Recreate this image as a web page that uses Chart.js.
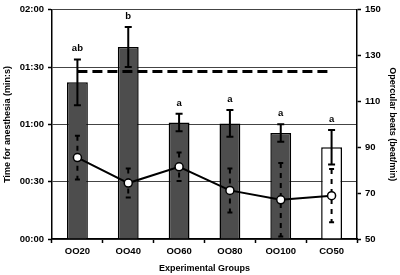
<!DOCTYPE html>
<html>
<head>
<meta charset="utf-8">
<script src="https://cdn.jsdelivr.net/npm/chart.js@4/dist/chart.umd.min.js"></script>
<style>
  html, body { margin: 0; padding: 0; background: #fff; }
  #wrap { width: 400px; height: 275px; }
</style>
</head>
<body>
<div id="wrap"><canvas id="chart" width="400" height="275"></canvas></div>
<script>
// data
const groups = ['OO20', 'OO40', 'OO60', 'OO80', 'OO100', 'CO50'];
const timeSec = [82, 100.5, 61, 60.5, 55.5, 48];      // time for anesthesia, seconds
const timeErr = [12, 10.5, 4.6, 7, 4.6, 9];
const letters = ['ab', 'b', 'a', 'a', 'a', 'a'];
const beats = [85.5, 74.4, 81.5, 71.2, 67.1, 68.9];   // opercular beats, beat/min
const beatsErr = [9.5, 6.3, 6.2, 9.6, 16, 11.6];
const controlBeats = [123, 123, 123, 123, 123, 123];  // dashed reference line
const timeTicks = [0, 30, 60, 90, 120];

const barColors = ['#4d4d4d', '#4d4d4d', '#4d4d4d', '#4d4d4d', '#4d4d4d', '#ffffff'];

function mmss(v) {
    const m = Math.floor(v / 60);
    const s = v % 60;
    return String(m).padStart(2, '0') + ':' + String(s).padStart(2, '0');
}

// error bars + significance letters
const errorBars = {
    id: 'errorBars',
    afterDatasetDraw(chart, args) {
        if (args.index !== 0) return;
        const ctx = chart.ctx;
        const x = chart.scales.x;
        const y = chart.scales.y;
        ctx.save();
        ctx.strokeStyle = '#000';
        ctx.lineWidth = 2;
        ctx.fillStyle = '#000';
        ctx.font = 'bold 9.5px "Liberation Sans", Arial, sans-serif';
        ctx.textAlign = 'center';
        ctx.textBaseline = 'alphabetic';
        timeSec.forEach((v, i) => {
            const cx = x.getPixelForValue(i);
            const top = y.getPixelForValue(v + timeErr[i]);
            const bot = y.getPixelForValue(v - timeErr[i]);
            ctx.beginPath();
            ctx.moveTo(cx, top); ctx.lineTo(cx, bot);
            ctx.moveTo(cx - 3.5, top); ctx.lineTo(cx + 3.5, top);
            ctx.moveTo(cx - 3.5, bot); ctx.lineTo(cx + 3.5, bot);
            ctx.stroke();
            ctx.fillText(letters[i], cx, top - 8);
        });
        ctx.restore();
    },
    beforeDatasetDraw(chart, args) {
        if (args.index !== 2) return;
        const ctx = chart.ctx;
        const x = chart.scales.x;
        const y1 = chart.scales.y1;
        ctx.save();
        ctx.strokeStyle = '#000';
        ctx.lineWidth = 2;
        beats.forEach((v, i) => {
            const cx = x.getPixelForValue(i);
            const top = y1.getPixelForValue(v + beatsErr[i]);
            const bot = y1.getPixelForValue(v - beatsErr[i]);
            ctx.setLineDash([5, 5]);
            ctx.beginPath();
            ctx.moveTo(cx, top); ctx.lineTo(cx, bot);
            ctx.stroke();
            ctx.setLineDash([]);
            ctx.beginPath();
            ctx.moveTo(cx - 2.5, top); ctx.lineTo(cx + 2.5, top);
            ctx.moveTo(cx - 2.5, bot); ctx.lineTo(cx + 2.5, bot);
            ctx.stroke();
        });
        ctx.restore();
    }
};

Chart.defaults.font.family = '"Liberation Sans", Arial, sans-serif';
Chart.defaults.font.size = 9.5;
Chart.defaults.font.weight = 'bold';
Chart.defaults.color = '#000';

new Chart(document.getElementById('chart'), {
    type: 'bar',
    data: {
        labels: groups,
        datasets: [
            {
                type: 'bar',
                data: timeSec,
                yAxisID: 'y',
                backgroundColor: barColors,
                borderColor: '#000',
                borderWidth: 1.5,
                barPercentage: 0.41,
                categoryPercentage: 1,
                order: 3
            },
            {
                type: 'line',
                data: controlBeats,
                yAxisID: 'y1',
                borderColor: '#000',
                borderWidth: 3,
                borderDash: [10, 5],
                pointRadius: 0,
                fill: false,
                order: 2
            },
            {
                type: 'line',
                data: beats,
                yAxisID: 'y1',
                borderColor: '#000',
                borderWidth: 2,
                pointRadius: 4,
                pointBackgroundColor: '#fff',
                pointBorderColor: '#000',
                pointBorderWidth: 1.5,
                fill: false,
                order: 1
            }
        ]
    },
    options: {
        responsive: false,
        animation: false,
        devicePixelRatio: 1,
        layout: { padding: { top: 5, left: 0, right: 0, bottom: 0 } },
        plugins: {
            legend: { display: false },
            tooltip: { enabled: false }
        },
        scales: {
            x: {
                offset: true,
                grid: { display: true, drawOnChartArea: false, offset: true, tickLength: 4, tickColor: '#000', tickWidth: 1.5 },
                border: { color: '#000', width: 1.5 },
                ticks: { padding: 3 },
                title: { display: true, text: 'Experimental Groups', font: { size: 9 }, padding: { top: 0, bottom: 1 } },
                afterFit(scale) { scale.height = 36; }
            },
            y: {
                position: 'left',
                min: 0,
                max: 120,
                afterBuildTicks(scale) { scale.ticks = timeTicks.map(v => ({ value: v })); },
                ticks: { callback: v => mmss(v), padding: 4 },
                grid: { color: '#444', lineWidth: 1, tickLength: 4, tickColor: '#000', tickWidth: 1.5 },
                border: { color: '#000', width: 1.5 },
                title: { display: true, text: 'Time for anesthesia (min:s)', font: { size: 9 }, padding: { top: 2, bottom: 0 } },
                afterFit(scale) { scale.width = 52; }
            },
            y1: {
                position: 'right',
                min: 50,
                max: 150,
                ticks: { stepSize: 20, padding: 4 },
                grid: { drawOnChartArea: false, tickLength: 4, tickColor: '#000', tickWidth: 1.5 },
                border: { color: '#000', width: 1.5 },
                title: { display: true, text: 'Opercular beats (beat/min)', font: { size: 9 }, padding: { top: 2, bottom: 0 } },
                afterFit(scale) { scale.width = 43; }
            }
        }
    },
    plugins: [errorBars]
});
</script>
</body>
</html>
